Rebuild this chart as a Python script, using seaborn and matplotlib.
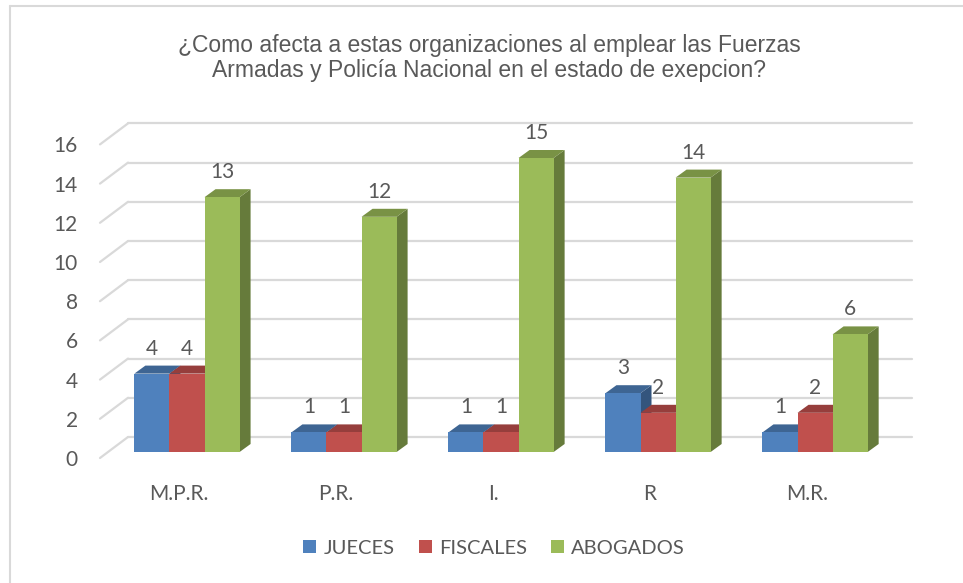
import matplotlib
matplotlib.use("Agg")
import matplotlib.pyplot as plt
import matplotlib.transforms as mtrans
from matplotlib.patches import Polygon
from matplotlib.lines import Line2D
import numpy as np
import pandas as pd
import seaborn as sns

# data
categories = ["M.P.R.", "P.R.", "I.", "R", "M.R."]
series = ["JUECES", "FISCALES", "ABOGADOS"]
jueces = [4, 1, 1, 3, 1]
fiscales = [4, 1, 1, 2, 2]
abogados = [13, 12, 15, 14, 6]
colors = ["#4F81BD", "#C0504D", "#9BBB59"]
title = ("¿Como afecta a estas organizaciones al emplear las Fuerzas\n"
         "Armadas y Policía Nacional en el estado de exepcion?")

df = pd.DataFrame({
    "cat": categories * 3,
    "serie": [s for s in series for _ in categories],
    "val": jueces + fiscales + abogados,
})

sns.set_style("white")
plt.rcParams["font.family"] = ["Lato", "DejaVu Sans"]
txt = "#595959"
grid_c = "#D9D9D9"

fig = plt.figure(figsize=(9.63, 5.83), dpi=100)
ax = fig.add_axes([100 / 963, 1 - 458 / 583, 784 / 963, (458 - 144.4) / 583])

sns.barplot(data=df, x="cat", y="val", hue="serie", palette=colors,
            width=0.67, gap=0, saturation=1, errorbar=None, linewidth=0,
            ax=ax, zorder=3)
ax.set_xlim(-0.503, 4.49)
ax.set_ylim(0, 16)
ax.set_xlabel("")
ax.set_ylabel("")
ax.set_yticks(range(0, 17, 2))
ax.tick_params(axis="y", length=0, pad=16, labelsize=15, labelcolor=txt)
ax.tick_params(axis="x", length=0, pad=19, labelsize=15, labelcolor=txt)
for s in ax.spines.values():
    s.set_visible(False)

# pixel scale of the data
p0 = ax.transData.transform((0, 0))
p1 = ax.transData.transform((1, 1))
sx, sy = p1 - p0

# back wall and side wall grid
wall = mtrans.offset_copy(ax.transData, fig=fig, x=28, y=21, units="dots")
x0, x1 = ax.get_xlim()
for v in range(0, 17, 2):
    ax.plot([x0, x1], [v, v], color=grid_c, lw=1.6, transform=wall,
            clip_on=False, zorder=1)
    ax.plot([x0, x0 + 28 / sx], [v, v + 21 / sy], color=grid_c, lw=1.6,
            clip_on=False, zorder=1)

# 3d look for the bars
bar_tr = mtrans.offset_copy(ax.transData, fig=fig, x=8, y=6, units="dots")
lab_tr = mtrans.offset_copy(ax.transData, fig=fig, x=8, y=6 + 8 + 17, units="dots")
ddx, ddy = 11 / sx, 8 / sy
bars = sorted([p for p in ax.patches if p.get_height() > 0], key=lambda p: p.get_x())
z = 4
for p in bars:
    x, w, h = p.get_x(), p.get_width(), p.get_height()
    rgb = np.array(matplotlib.colors.to_rgb(p.get_facecolor()))
    side = Polygon([(x + w, 0), (x + w + ddx, ddy), (x + w + ddx, h + ddy), (x + w, h)],
                   closed=True, facecolor=rgb * 0.66, lw=0, transform=bar_tr,
                   zorder=z, clip_on=False)
    top = Polygon([(x, h), (x + w, h), (x + w + ddx, h + ddy), (x + ddx, h + ddy)],
                  closed=True, facecolor=rgb * 0.78, lw=0, transform=bar_tr,
                  zorder=z + 1, clip_on=False)
    ax.add_patch(side)
    ax.add_patch(top)
    p.set_transform(bar_tr)
    p.set_zorder(z + 2)
    p.set_clip_on(False)
    ax.text(x + w / 2, h, f"{h:.0f}", ha="center", va="center", fontsize=15,
            color=txt, transform=lab_tr, zorder=20)
    z += 3

# legend
sns.move_legend(ax, "center", bbox_to_anchor=(494 / 963, 1 - 548 / 583),
                bbox_transform=fig.transFigure, ncol=3, frameon=False, title=None,
                fontsize=14.5, handlelength=0.65, handleheight=0.65,
                handletextpad=0.35, columnspacing=1.2)
for t in ax.get_legend().get_texts():
    t.set_color(txt)

fig.text(489 / 963, 1 - 58 / 583, title, ha="center", va="center",
         fontsize=16.5, color=txt, linespacing=1.15,
         family=["Liberation Sans", "DejaVu Sans"])

# chart frame
fig.add_artist(Line2D([10 / 963, 10 / 963], [0, 1 - 6 / 583], color=grid_c, lw=1.5))
fig.add_artist(Line2D([10 / 963, 1], [1 - 6 / 583, 1 - 6 / 583], color=grid_c, lw=1.5))

fig.savefig("out.png", dpi=100)
